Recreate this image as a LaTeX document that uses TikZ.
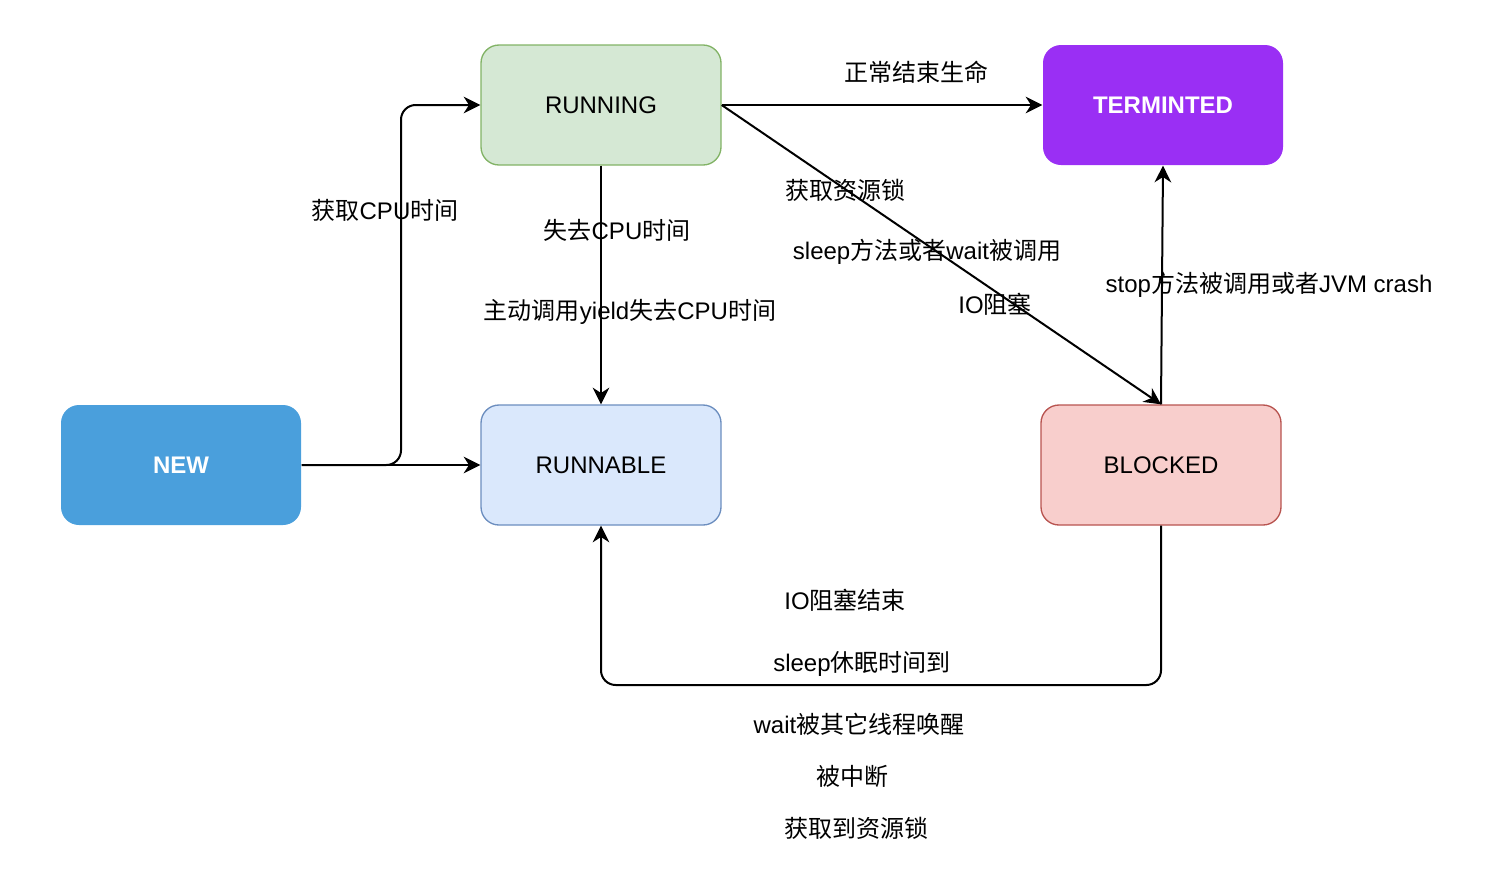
\documentclass[tikz,border=0pt]{standalone}
\usepackage{fontspec}
\setmainfont{Liberation Sans}
\newfontfamily\cjk{Noto Sans CJK SC}
\usetikzlibrary{arrows.meta}
\definecolor{newfill}{HTML}{4A9FDC}
\definecolor{runfill}{HTML}{D5E8D4}
\definecolor{runline}{HTML}{82B366}
\definecolor{ablefill}{HTML}{DAE8FC}
\definecolor{ableline}{HTML}{6C8EBF}
\definecolor{endfill}{HTML}{9A2FF4}
\definecolor{blockfill}{HTML}{F8CECC}
\definecolor{blockline}{HTML}{B85450}
\tikzset{
  state/.style={rounded corners=13.5pt, minimum width=180pt, minimum height=90pt, line width=1pt, font=\fontsize{18}{22}\selectfont},
  lbl/.style={inner sep=0pt, text height=16pt, text depth=3pt, font=\fontsize{18}{22}\selectfont},
  flow/.style={line width=1.5pt, rounded corners=11pt, -{Stealth[length=12.5pt,width=12.5pt,inset=4pt]}}
}
\begin{document}
\begin{tikzpicture}[x=0.75pt,y=-0.75pt]
    \useasboundingbox (0,0) rectangle (1496,872);
    \node[state, fill=newfill, text=white, font=\fontsize{18}{22}\selectfont\bfseries] (new) at (181,465) {NEW};
    \node[state, draw=runline, fill=runfill] (running) at (601,105) {RUNNING};
    \node[state, draw=ableline, fill=ablefill] (runnable) at (601,465) {RUNNABLE};
    \node[state, fill=endfill, text=white, font=\fontsize{18}{22}\selectfont\bfseries] (termin) at (1163,105) {TERMINTED};
    \node[state, draw=blockline, fill=blockfill] (blocked) at (1161,465) {BLOCKED};
    \draw[flow] (new.east) -- (runnable.west);
    \draw[flow] (new.east) -- (401,465) |- (running.west);
    \draw[flow] (running.south) -- (runnable.north);
    \draw[flow] (running.east) -- (termin.west);
    \draw[flow] (running.east) -- (blocked.north);
    \draw[flow] (blocked.north) -- (termin.south);
    \draw[flow] (blocked.south) -- (1161,685) -| (runnable.south);
    \node[lbl] (lcpu) at (385,211) {{\cjk 获取}CPU{\cjk 时间}};
    \node[lbl] (llose) at (617,231) {{\cjk 失去}CPU{\cjk 时间}};
    \node[lbl] (lyield) at (630,311) {{\cjk 主动调用}yield{\cjk 失去}CPU{\cjk 时间}};
    \node[lbl] (lend) at (916,73) {\cjk 正常结束生命};
    \node[lbl] (llock) at (845,191) {\cjk 获取资源锁};
    \node[lbl] (lsleep) at (927,251) {sleep{\cjk 方法或者}wait{\cjk 被调用}};
    \node[lbl] (lio) at (995,305) {IO{\cjk 阻塞}};
    \node[lbl] (lstop) at (1269,284) {stop{\cjk 方法被调用或者}JVM crash};
    \node[lbl] (lioend) at (845,601) {IO{\cjk 阻塞结束}};
    \node[lbl] (lwake) at (862,663) {sleep{\cjk 休眠时间到}};
    \node[lbl] (lwait) at (859,725) {wait{\cjk 被其它线程唤醒}};
    \node[lbl] (lint) at (852,777) {\cjk 被中断};
    \node[lbl] (lget) at (856,829) {\cjk 获取到资源锁};
\end{tikzpicture}
\end{document}
